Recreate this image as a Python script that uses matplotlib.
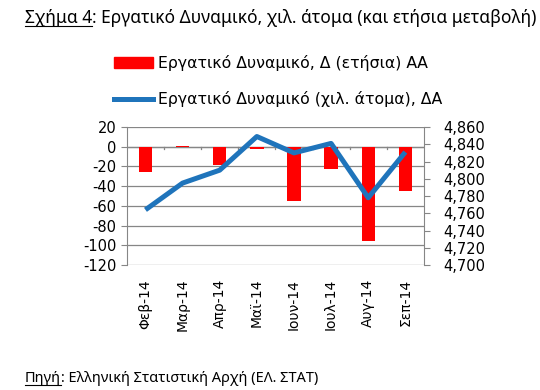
import numpy as np
import matplotlib
matplotlib.use('Agg')
import matplotlib.pyplot as plt
from matplotlib.lines import Line2D
from matplotlib.patches import Patch

months = ['Φεβ-14', 'Μαρ-14', 'Απρ-14', 'Μαϊ-14', 'Ιουν-14', 'Ιουλ-14', 'Αυγ-14', 'Σεπ-14']
annual_change = [-26, 1, -19, -2, -55, -23, -96, -45]
labour_force = [4764, 4795, 4810, 4849, 4830, 4841, 4778, 4831]

left_ticks = np.arange(-120, 21, 20)
right_ticks = np.arange(4700, 4861, 20)

red = '#FF0000'
blue = '#1F74BB'
grey = '#868686'

plt.rcParams['font.family'] = ['DejaVu Sans']
plt.rcParams['axes.unicode_minus'] = False

fig = plt.figure(figsize=(5.4, 3.9), dpi=100)
ax = fig.add_axes([0.235, 0.3205, 0.55, 0.3538])
ax2 = ax.twinx()

x = np.arange(len(months))
ax.bar(x, annual_change, width=0.36, color=red, zorder=2)
ax.set_ylim(-120, 20)
ax.set_yticks(left_ticks)
ax.set_xlim(-0.5, len(months) - 0.5)
ax.yaxis.grid(True, color=grey, linewidth=0.9)
ax.set_axisbelow(True)
ax.axhline(0, color=grey, linewidth=0.9, zorder=1)
# small category separators on the zero line
for sep in np.arange(0.5, len(months) - 0.5):
    ax.plot([sep, sep], [0, -2.5], color=grey, linewidth=0.9, zorder=1)
ax.set_xticks(x)
ax.set_xticklabels(months, rotation=90, fontsize=10)
ax.tick_params(axis='x', length=0, pad=10)
ax.tick_params(axis='y', length=4, color=grey, labelsize=10.5)

ax2.plot(x, labour_force, color=blue, linewidth=3.6, solid_capstyle='butt', zorder=3)
ax2.set_ylim(4700, 4860)
ax2.set_yticks(right_ticks)
ax2.set_yticklabels([f'{v:,}' for v in right_ticks])
ax2.tick_params(axis='y', length=4, color=grey, labelsize=10.5, pad=10)

for a in (ax, ax2):
    for s in a.spines.values():
        s.set_visible(False)
ax.spines['left'].set_visible(True)
ax.spines['left'].set_color(grey)
ax2.spines['right'].set_visible(True)
ax2.spines['right'].set_color(grey)

handles = [Patch(color=red), Line2D([], [], color=blue, linewidth=3.6)]
labels = ['Εργατικό Δυναμικό, Δ (ετήσια) ΑΑ', 'Εργατικό Δυναμικό (χιλ. άτομα), ΔΑ']
fig.legend(handles, labels, loc='upper center', bbox_to_anchor=(0.515, 0.895),
           frameon=False, labelspacing=1.3, handlelength=2.5,
           handletextpad=0.3, prop={'family': 'DejaVu Sans', 'size': 11.3})


def underlined(fig, xpos, ypos, first, rest, size):
    renderer = fig.canvas.get_renderer()
    t1 = fig.text(xpos, ypos, first, fontsize=size, family='Noto Sans', va='baseline')
    bb = t1.get_window_extent(renderer).transformed(fig.transFigure.inverted())
    fig.text(bb.x1, ypos, rest, fontsize=size, family='Noto Sans', va='baseline')
    fig.add_artist(Line2D([bb.x0, bb.x1], [ypos - 0.008, ypos - 0.008],
                          color='black', linewidth=0.8, transform=fig.transFigure))


underlined(fig, 0.046, 0.942, 'Σχήμα 4', ': Εργατικό Δυναμικό, χιλ. άτομα (και ετήσια μεταβολή)', 12.5)
underlined(fig, 0.046, 0.02, 'Πηγή', ': Ελληνική Στατιστική Αρχή (ΕΛ. ΣΤΑΤ)', 10.5)

fig.savefig('out.png', dpi=100)
